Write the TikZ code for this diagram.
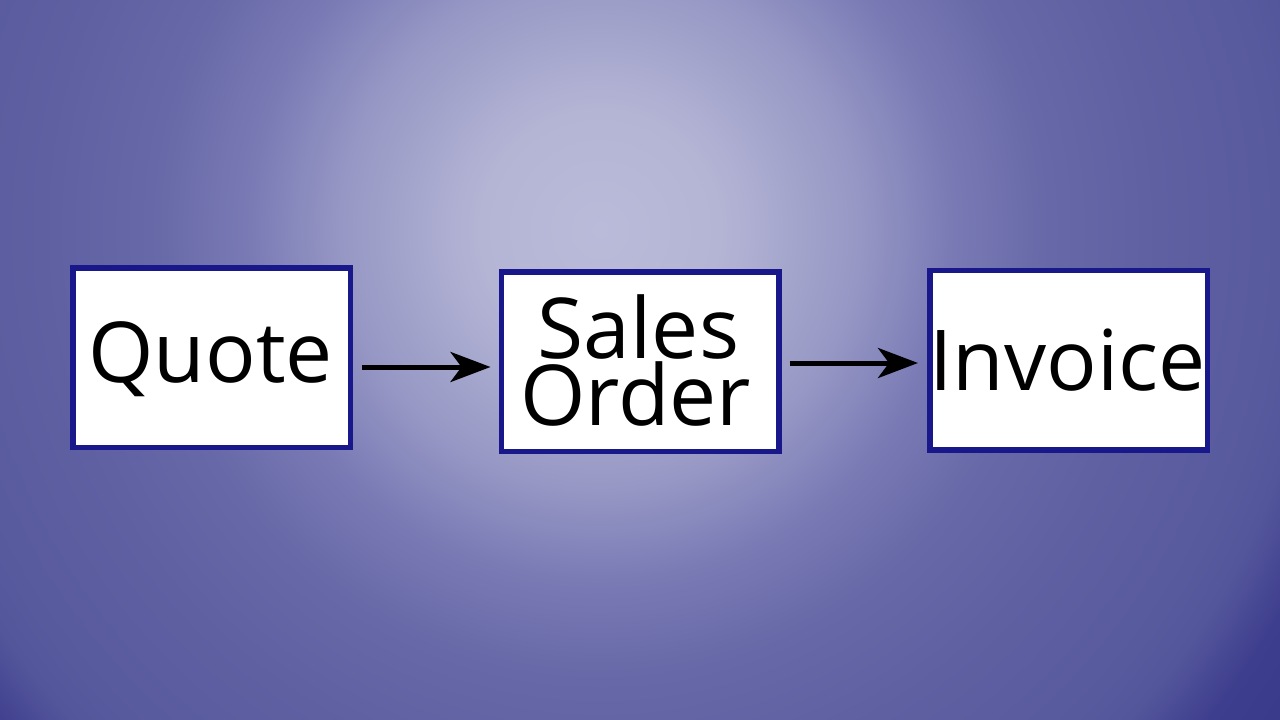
\documentclass[tikz,border=0pt]{standalone}
\usepackage{fontspec}
\setmainfont{Open Sans}
\usetikzlibrary{arrows.meta,calc}
\definecolor{boxblue}{RGB}{24,24,138}
\pgfdeclareradialshading{bgshade}{\pgfpoint{0bp}{0bp}}{%
rgb(0bp)=(0.729,0.733,0.851);
rgb(3.33bp)=(0.706,0.710,0.835);
rgb(7.22bp)=(0.588,0.592,0.769);
rgb(9.72bp)=(0.478,0.482,0.710);
rgb(12.5bp)=(0.400,0.408,0.655);
rgb(15.56bp)=(0.369,0.376,0.635);
rgb(18.89bp)=(0.345,0.353,0.620);
rgb(20bp)=(0.329,0.337,0.608);
rgb(21.67bp)=(0.243,0.243,0.557);
rgb(25bp)=(0.216,0.216,0.541);
rgb(50bp)=(0.216,0.216,0.541)}
\tikzset{
  box/.style={draw=boxblue, fill=white, line width=5.5pt, inner sep=0pt,
    minimum width=277.5pt, minimum height=179.5pt},
  lbl/.style={inner sep=0pt, font=\fontsize{84}{67}\selectfont, text=black},
  arr/.style={line width=5pt, -{Stealth[length=40pt,width=30pt,inset=11pt]}}
}
\begin{document}
\begin{tikzpicture}[x=1pt,y=-1pt]
\useasboundingbox (0,0) rectangle (1280,720);
\begin{scope}
\clip (0,0) rectangle (1280,720);
\shade[shading=bgshade] (600,230) circle (900pt);
\end{scope}
\node[box] (q) at (211.5,357.5) {};
\node[box] (s) at (640,361.5) {};
\node[box] (i) at (1068.5,360) {};
\node[lbl, anchor=base] (qt) at ($(q.center)+(-1,24.5)$) {Quote};
\node[lbl, anchor=base] (st) at ($(s.center)+(-1.5,-3.5)$) {Sales};
\node[lbl, anchor=base] (ot) at ($(s.center)+(-4.5,63.5)$) {Order};
\node[lbl, anchor=base] (it) at ($(i.center)+(-1,30)$) {Invoice};
\draw[arr] ($(q.east)+(9,9.5)$) -- ($(s.west)+(-8,5.5)$);
\draw[arr] ($(s.east)+(8,1.5)$) -- ($(i.west)+(-9,3)$);
\end{tikzpicture}
\end{document}
